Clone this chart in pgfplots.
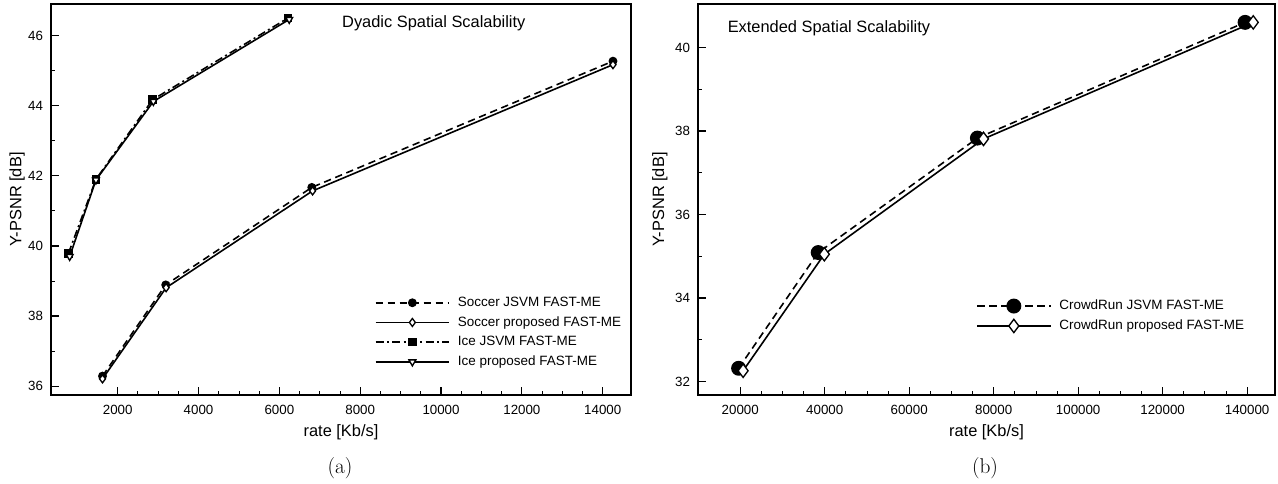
\documentclass[border=0pt]{standalone}
\usepackage{pgfplots}
\pgfplotsset{compat=1.18}
\usepackage{fontspec}
\newfontfamily\arial{Liberation Sans}
\pgfplotsset{
  mystyle/.style={
    scale only axis,
    anchor=south west,
    axis line style={line width=1.1pt},
    tick align=inside,
    xtick pos=bottom, ytick pos=left,
    major tick length=6pt, minor tick length=3pt,
    every tick/.style={line width=0.9pt, black},
    minor tick style={line width=0.6pt},
    tick label style={font=\arial\fontsize{10}{11}\selectfont},
    /pgf/number format/assume math mode=true,
    /pgf/number format/fixed,
    /pgf/number format/1000 sep={},
    scaled x ticks=false,
    yticklabel style={xshift=-2.5pt},
    xticklabel style={yshift=-4pt},
    label style={font=\arial\fontsize{12.3}{14}\selectfont},
    legend style={draw=none, fill=none, font=\arial\fontsize{10.1}{11}\selectfont, row sep=2.1pt, column sep=4pt, inner sep=0pt},
    legend cell align=left,
    legend image code/.code={
      \draw[mark repeat=2,mark phase=2] plot coordinates {(0pt,0pt) (27.5pt,0pt) (55pt,0pt)};
    },
  }
}
\begin{document}
\begin{tikzpicture}
\useasboundingbox (0,0) rectangle (958.5pt,363pt);
% ---------------- (a) ----------------
\begin{axis}[mystyle,
  at={(38.25pt,66.75pt)}, width=435pt, height=293.25pt,
  xmin=350, xmax=14700, ymin=35.75, ymax=46.9,
  xtick={2000,4000,...,14000}, minor x tick num=3,
  ytick={36,38,...,46}, minor y tick num=1,
  xlabel={rate [Kb/s]}, ylabel={Y-PSNR [dB]},
  xlabel style={at={(axis description cs:0.5,-0.095)}, anchor=center},
  ylabel style={at={(axis description cs:-0.0586,0.5)}, anchor=center},
  legend style={at={(axis description cs:0.558,0.258)}, anchor=north west},
]
\addplot[black, line width=1.2pt, dash pattern=on 5.5pt off 3.5pt, mark=*, mark size=2.7pt, mark options={solid}]
  coordinates {(1624,36.29) (3188,38.89) (6802,41.67) (14254,45.27)};
\addlegendentry{Soccer JSVM FAST-ME}
\addplot[black, line width=1.2pt, mark=diamond*, mark size=3pt, mark options={solid, fill=white, line width=1pt}]
  coordinates {(1624,36.21) (3198,38.81) (6822,41.57) (14254,45.17)};
\addlegendentry{Soccer proposed FAST-ME}
\addplot[black, line width=1.2pt, dash pattern=on 6pt off 2.5pt on 1.5pt off 2.5pt, mark=square*, mark size=2.6pt, mark options={solid}]
  coordinates {(782,39.79) (1462,41.90) (2863,44.17) (6213,46.50)};
\addlegendentry{Ice JSVM FAST-ME}
\addplot[black, line width=1.2pt, mark=triangle*, mark size=3pt, mark options={solid, fill=white, rotate=180, line width=1pt}]
  coordinates {(812,39.70) (1462,41.88) (2883,44.12) (6244,46.46)};
\addlegendentry{Ice proposed FAST-ME}
\node[font=\arial\fontsize{12.3}{14}\selectfont] at (axis description cs:0.66,0.951) {Dyadic Spatial Scalability};
\end{axis}
% ---------------- (b) ----------------
\begin{axis}[mystyle,
  at={(523.5pt,66.75pt)}, width=432.75pt, height=293.25pt,
  xmin=10000, xmax=146600, ymin=31.68, ymax=41.04,
  xtick={20000,40000,...,140000}, minor x tick num=3,
  ytick={32,34,...,40}, minor y tick num=1,
  xlabel={rate [Kb/s]}, ylabel={Y-PSNR [dB]},
  xlabel style={at={(axis description cs:0.5,-0.095)}, anchor=center},
  ylabel style={at={(axis description cs:-0.0659,0.5)}, anchor=center},
  legend style={at={(axis description cs:0.482,0.25)}, anchor=north west},
]
\addplot[black, line width=1.2pt, dash pattern=on 5.5pt off 3.5pt, mark=*, mark size=5pt, mark options={solid}]
  coordinates {(19615,32.32) (38458,35.09) (76145,37.83) (139518,40.60)};
\addlegendentry{CrowdRun JSVM FAST-ME}
\addplot[black, line width=1.2pt, mark=diamond*, mark size=5pt, mark options={solid, fill=white, line width=1pt}]
  coordinates {(20675,32.26) (39904,35.05) (77590,37.81) (141446,40.60)};
\addlegendentry{CrowdRun proposed FAST-ME}
\node[font=\arial\fontsize{12.3}{14}\selectfont] at (axis description cs:0.227,0.938) {Extended Spatial Scalability};
\end{axis}
\node at (255pt,11.5pt) {\fontsize{16}{18}\selectfont (a)};
\node at (738.75pt,11.5pt) {\fontsize{16}{18}\selectfont (b)};
\end{tikzpicture}
\end{document}
